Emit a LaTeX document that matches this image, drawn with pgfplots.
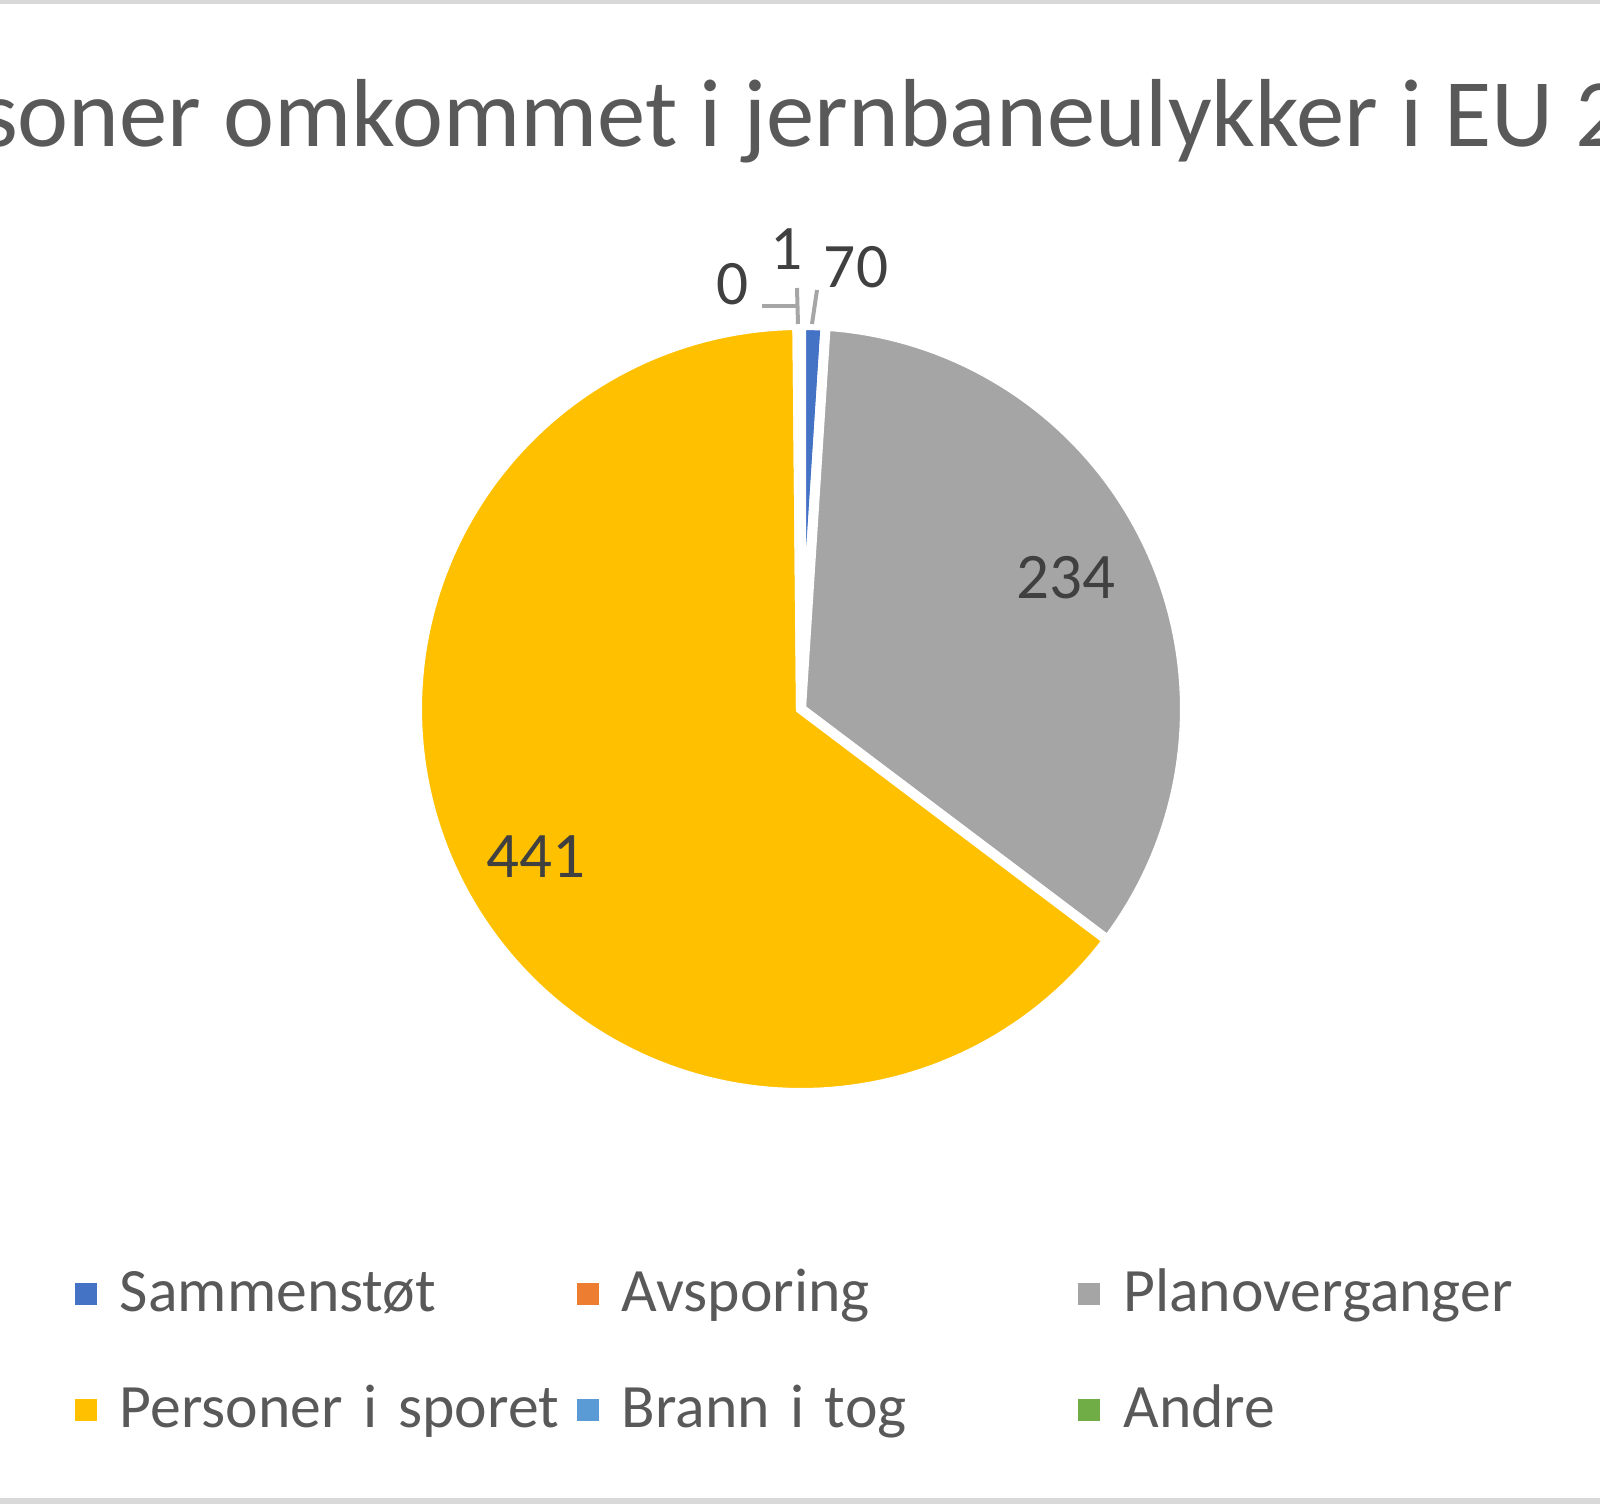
\documentclass[border=0pt]{standalone}
\usepackage{pgfplots}
\pgfplotsset{compat=1.18}
\usepackage{fontspec}
\setmainfont{Carlito}
\definecolor{sblue}{HTML}{4472C4}
\definecolor{sorange}{HTML}{ED7D31}
\definecolor{sgrey}{HTML}{A5A5A5}
\definecolor{syellow}{HTML}{FFC000}
\definecolor{slblue}{HTML}{5B9BD5}
\definecolor{sgreen}{HTML}{70AD47}
\definecolor{tgray}{HTML}{595959}
\definecolor{lgray}{HTML}{404040}
\definecolor{frame}{HTML}{D9D9D9}
\definecolor{leader}{HTML}{A6A6A6}
% data: persons killed
\def\vSam{7}
\def\vAvs{0}
\def\vPlan{234}
\def\vPers{441}
\def\vBrann{0}
\def\vAndre{1}
\pgfmathsetmacro\tot{\vSam+\vAvs+\vPlan+\vPers+\vBrann+\vAndre}
\pgfmathsetmacro\aA{360*(\vSam/\tot)}
\pgfmathsetmacro\aB{\aA+360*(\vAvs/\tot)}
\pgfmathsetmacro\aC{\aB+360*(\vPlan/\tot)}
\pgfmathsetmacro\aD{\aC+360*(\vPers/\tot)}
\pgfmathsetmacro\aE{\aD+360*(\vBrann/\tot)}
\pgfmathsetmacro\aF{\aE+360*(\vAndre/\tot)}
\def\cx{801}
\def\cy{709}
\def\R{384}
\begin{document}
\begin{tikzpicture}
\path[use as bounding box, clip] (0,0) rectangle (480pt,451.2pt);
\begin{axis}[
  at={(0,0)}, anchor=south west,
  width=480pt, height=451.2pt, scale only axis,
  xmin=0, xmax=1600, ymin=0, ymax=1504, y dir=reverse,
  axis lines=none, clip=false,
  legend columns=3,
  legend cell align=left,
  legend image code/.code={\fill[#1] (0pt,-3.3pt) rectangle (6.6pt,3.3pt);},
  legend style={at={(axis cs:75,1262)}, anchor=north west, draw=none, fill=none,
    inner sep=0pt, outer sep=0pt, row sep=15.3pt,
    nodes={inner sep=0pt, outer sep=0pt, text width=137pt, align=left,
      text height=15pt, text depth=4.5pt, font=\fontsize{18.5}{22}\selectfont, text=tgray},
    /tikz/every odd column/.append style={column sep=6.9pt},
    /tikz/every even column/.append style={column sep=0pt}},
]
% frame lines
\draw[frame, line width=1.3pt] (axis cs:0,2) -- (axis cs:1600,2);
\draw[frame, line width=1.8pt] (axis cs:0,1501) -- (axis cs:1600,1501);
% slices
\addplot[forget plot, fill=sblue, draw=white, line width=3pt, domain=0:\aA, samples=5]
  ({\cx+\R*sin(x)},{\cy-\R*cos(x)}) -- (axis cs:\cx,\cy) -- cycle;
\addplot[forget plot, fill=sgrey, draw=white, line width=3pt, domain=\aB:\aC, samples=80]
  ({\cx+\R*sin(x)},{\cy-\R*cos(x)}) -- (axis cs:\cx,\cy) -- cycle;
\addplot[forget plot, fill=syellow, draw=white, line width=3pt, domain=\aC:\aD, samples=150]
  ({\cx+\R*sin(x)},{\cy-\R*cos(x)}) -- (axis cs:\cx,\cy) -- cycle;
\addplot[forget plot, fill=sgreen, draw=white, line width=3pt, domain=\aE:\aF, samples=2]
  ({\cx+\R*sin(x)},{\cy-\R*cos(x)}) -- (axis cs:\cx,\cy) -- cycle;
% leader lines
\draw[leader, line width=1.2pt] (axis cs:762,306) -- (axis cs:797,306);
\draw[leader, line width=1.2pt] (axis cs:797,288) -- (axis cs:798,324);
\draw[leader, line width=1.2pt] (axis cs:817,290) -- (axis cs:812,324);
% data labels
\node[anchor=base, inner sep=0pt, text=lgray, font=\fontsize{19}{22}\selectfont] at (axis cs:733,305) {0};
\node[anchor=base, inner sep=0pt, text=lgray, font=\fontsize{19}{22}\selectfont] at (axis cs:787,270) {1};
\node[anchor=base, inner sep=0pt, text=lgray, font=\fontsize{19}{22}\selectfont] at (axis cs:856,288) {70};
\node[anchor=base, inner sep=0pt, text=lgray, font=\fontsize{19.5}{22}\selectfont] at (axis cs:1066,599) {234};
\node[anchor=base, inner sep=0pt, text=lgray, font=\fontsize{19.5}{22}\selectfont] at (axis cs:536,878) {441};
% title
\node[anchor=base east, inner sep=0pt, text=tgray, font=\fontsize{29}{35}\selectfont] at (axis cs:1625,147) {Personer omkommet i jernbaneulykker i EU 2};
% legend
\addlegendimage{fill=sblue, draw=none}\addlegendentry{Sammenstøt}
\addlegendimage{fill=sorange, draw=none}\addlegendentry{Avsporing}
\addlegendimage{fill=sgrey, draw=none}\addlegendentry{Planoverganger}
\addlegendimage{fill=syellow, draw=none}\addlegendentry{Personer i sporet}
\addlegendimage{fill=slblue, draw=none}\addlegendentry{Brann i tog}
\addlegendimage{fill=sgreen, draw=none}\addlegendentry{Andre}
\end{axis}
\end{tikzpicture}
\end{document}
